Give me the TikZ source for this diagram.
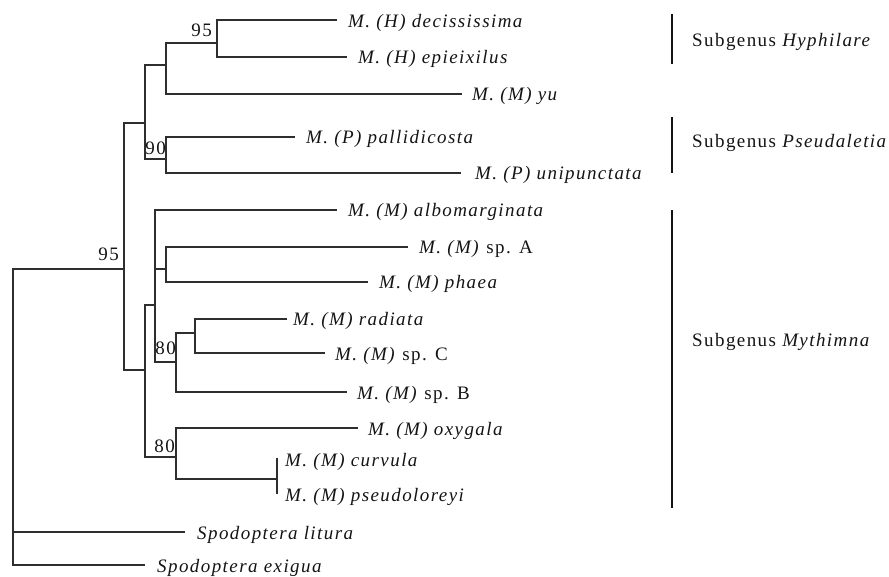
\documentclass[tikz,border=0pt]{standalone}
\usepackage{fontspec}
\setmainfont{Liberation Serif}[LetterSpace=7.5]
\newcommand\lblfont{\fontsize{19}{22}\selectfont}
\begin{document}
\begin{tikzpicture}[x=1pt,y=-1pt,
  br/.style={line width=1.6pt, draw=black!82, line join=miter},
  grp/.style={line width=2.8pt, draw=black!92},
  tiplbl/.style={anchor=base west, inner sep=0pt, text=black!92, font=\lblfont},
  bslbl/.style={anchor=base east, inner sep=0pt, text=black!92, font=\lblfont},
  grplbl/.style={anchor=base west, inner sep=0pt, text=black!92, font=\lblfont}]
\useasboundingbox (0,0) rectangle (889,577);
% internal nodes (x of vertical, y of attachment)
\coordinate (n0) at (13,400);
\coordinate (nIn) at (124,269);
\coordinate (nTop) at (145,123);
\coordinate (nHY) at (166,65);
\coordinate (nHy) at (217,43);
\coordinate (nPs) at (166,159);
\coordinate (nMy) at (145,370);
\coordinate (nU) at (155,305);
\coordinate (nAP) at (166,269);
\coordinate (nRG) at (176,362);
\coordinate (nRC) at (195,333);
\coordinate (nOx) at (176,457);
\coordinate (nCP) at (277,479);
% tips
\coordinate (tDec) at (337,20);
\coordinate (tEpi) at (347,57);
\coordinate (tYu) at (462,94);
\coordinate (tPal) at (295,137);
\coordinate (tUni) at (461,173);
\coordinate (tAlb) at (337,210);
\coordinate (tSpA) at (408,247);
\coordinate (tPha) at (368,282);
\coordinate (tRad) at (287,319);
\coordinate (tSpC) at (325,353);
\coordinate (tSpB) at (347,392);
\coordinate (tOxy) at (358,428);
\coordinate (tCur) at (277,458);
\coordinate (tPse) at (277,494);
\coordinate (tLit) at (185,532);
\coordinate (tExi) at (145,565);
% branches
\draw[br] (nIn) -| (n0) |- (tExi);
\draw[br] (n0 |- tLit) -- (tLit);
\draw[br] (nTop) -| (nIn) |- (nMy);
\draw[br] (nHY) -| (nTop) |- (nPs);
\draw[br] (nHy) -| (nHY) |- (tYu);
\draw[br] (tDec) -| (nHy) |- (tEpi);
\draw[br] (tPal) -| (nPs) |- (tUni);
\draw[br] (nU) -| (nMy) |- (nOx);
\draw[br] (tAlb) -| (nU) |- (nRG);
\draw[br] (nU |- nAP) -- (nAP);
\draw[br] (tSpA) -| (nAP) |- (tPha);
\draw[br] (nRC) -| (nRG) |- (tSpB);
\draw[br] (tRad) -| (nRC) |- (tSpC);
\draw[br] (tOxy) -| (nOx) |- (nCP);
\draw[br] (tCur) -- (tPse);
% tip labels
\node[tiplbl] (lDec) at ([xshift=11pt,yshift=-8pt]tDec) {\textit{M. (H) decississima}};
\node[tiplbl] (lEpi) at ([xshift=11pt,yshift=-7pt]tEpi) {\textit{M. (H) epieixilus}};
\node[tiplbl] (lYu) at ([xshift=10pt,yshift=-7pt]tYu) {\textit{M. (M) yu}};
\node[tiplbl] (lPal) at ([xshift=11pt,yshift=-7pt]tPal) {\textit{M. (P) pallidicosta}};
\node[tiplbl] (lUni) at ([xshift=14pt,yshift=-7pt]tUni) {\textit{M. (P) unipunctata}};
\node[tiplbl] (lAlb) at ([xshift=11pt,yshift=-7pt]tAlb) {\textit{M. (M) albomarginata}};
\node[tiplbl] (lSpA) at ([xshift=11pt,yshift=-7pt]tSpA) {\textit{M. (M)} sp. A};
\node[tiplbl] (lPha) at ([xshift=11pt,yshift=-7pt]tPha) {\textit{M. (M) phaea}};
\node[tiplbl] (lRad) at ([xshift=6pt,yshift=-7pt]tRad) {\textit{M. (M) radiata}};
\node[tiplbl] (lSpC) at ([xshift=10pt,yshift=-7pt]tSpC) {\textit{M. (M)} sp. C};
\node[tiplbl] (lSpB) at ([xshift=10pt,yshift=-7pt]tSpB) {\textit{M. (M)} sp. B};
\node[tiplbl] (lOxy) at ([xshift=10pt,yshift=-7pt]tOxy) {\textit{M. (M) oxygala}};
\node[tiplbl] (lCur) at ([xshift=8pt,yshift=-8pt]tCur) {\textit{M. (M) curvula}};
\node[tiplbl] (lPse) at ([xshift=8pt,yshift=-7pt]tPse) {\textit{M. (M) pseudoloreyi}};
\node[tiplbl] (lLit) at ([xshift=12pt,yshift=-7pt]tLit) {\textit{Spodoptera litura}};
\node[tiplbl] (lExi) at ([xshift=12pt,yshift=-7pt]tExi) {\textit{Spodoptera exigua}};
% bootstrap values
\node[bslbl] (b1) at (212,37) {95};
\node[bslbl] (b2) at (166,155) {90};
\node[bslbl] (b3) at (176,354) {80};
\node[bslbl] (b4) at (175,452) {80};
\node[bslbl] (b5) at (119,261) {95};
% subgenus bars
\coordinate (gH1) at (672,14);
\coordinate (gH2) at (672,64);
\coordinate (gP1) at (672,117);
\coordinate (gP2) at (672,173);
\coordinate (gM1) at (672,210);
\coordinate (gM2) at (672,508);
\draw[grp] (gH1) -- (gH2);
\draw[grp] (gP1) -- (gP2);
\draw[grp] (gM1) -- (gM2);
\node[grplbl] (sH) at (692,47) {Subgenus \textit{Hyphilare}};
\node[grplbl] (sP) at (692,148) {Subgenus \textit{Pseudaletia}};
\node[grplbl] (sM) at (692,347) {Subgenus \textit{Mythimna}};
\end{tikzpicture}
\end{document}
